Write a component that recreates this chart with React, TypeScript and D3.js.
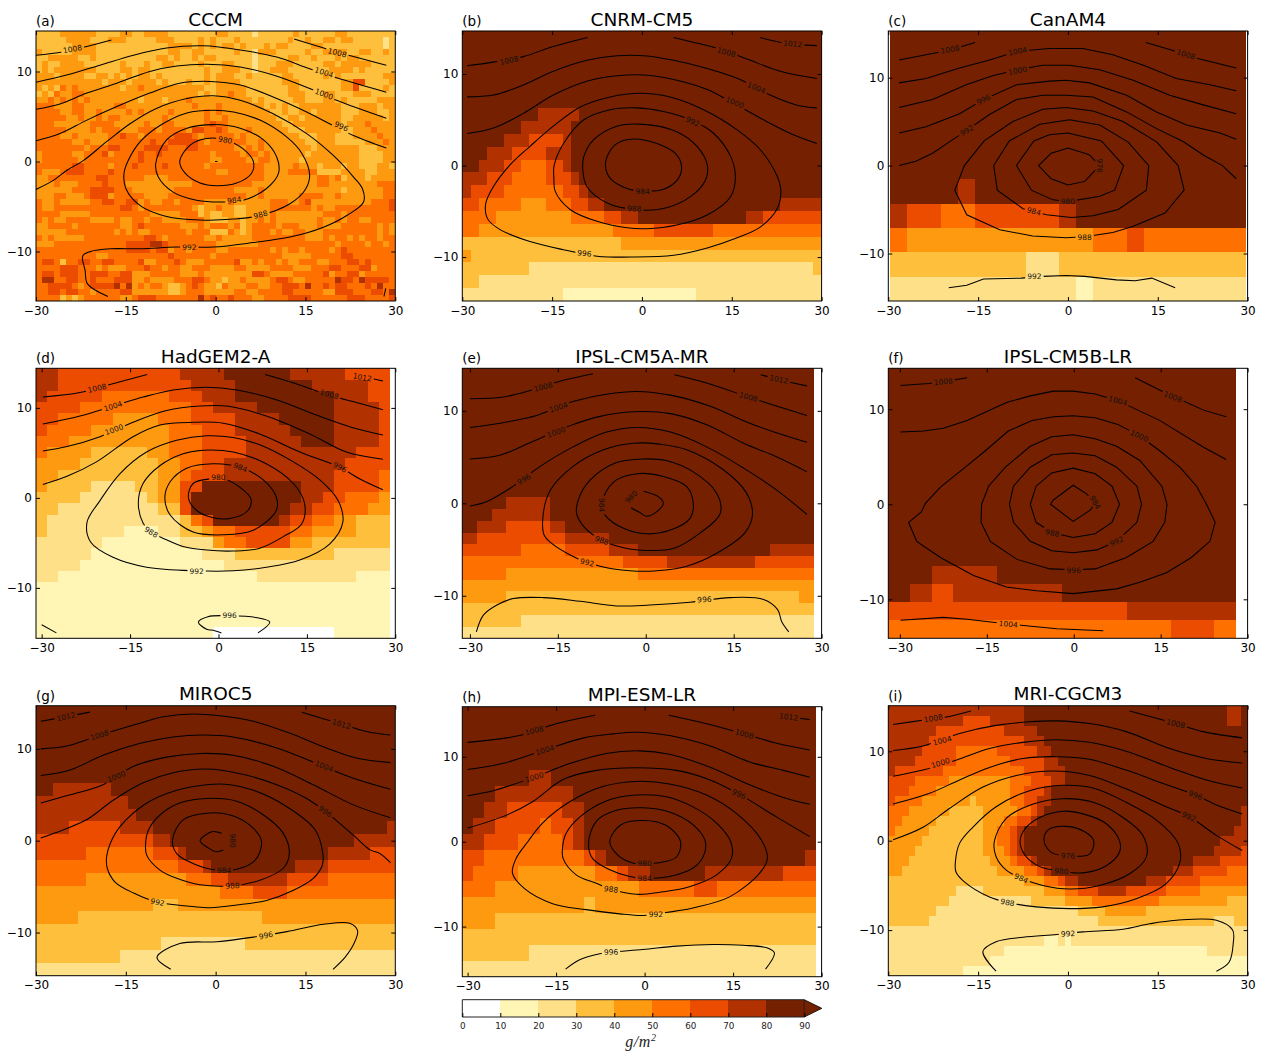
import React, { useEffect, useRef } from "react";
import * as d3 from "d3";

type Pt = [number, number];
// level, closed (1) or open (0), points as lon/lat
type Contour = [number, number, Pt[]];
// text, lon, lat, rotation
type Label = [string, number, number, number];

// colour bins: index = floor(value / 10)
const binEdges = [0, 10, 20, 30, 40, 50, 60, 70, 80, 90];
const binColors = ["#ffffff", "#fff5b5", "#fee088", "#febf3c", "#fe9a10", "#fe7000", "#ec4c00", "#b23100", "#752000"];
const xTicks = [-30, -15, 0, 15, 30];
const yTicks = [-10, 0, 10];

// rows run top to bottom. Plain digits = one cell each, "b@n" = bin b up to column n
const cccmBins = [
  "3333444444 3333443344 4433333333 4433332333 3334333333 4433333333",
  "3333344443 3344433333 4443333434 3334333333 3343343344 3443333323",
  "3333334444 3333333333 3344443434 3443433343 4433334433 3333333323",
  "4333334444 3333333333 3344334433 3334332444 3333343344 4433443343",
  "3344444334 3333333333 4434334344 3333332333 3344334333 4344333333",
  "3433444433 3333433343 3443333433 3443332333 4443333344 3444443333",
  "3434444444 3333443443 3333333343 3444332334 4433333334 4443433333",
  "4443444433 4434343443 4333333343 4443343333 3443333343 4333333344",
  "4444444444 4344434444 3433343343 4444333333 3444333333 3446633334",
  "4343545444 4444344544 4444444433 4444433333 3344333333 3446333343",
  "3435445544 4444444444 4444444343 4454433333 3344433344 3334443333",
  "4454545454 4444444344 4344454444 4444443433 3334433344 3433333444",
  "5554445544 4445544444 4444445444 5444444434 3433444444 4333444344",
  "5555445544 5444454544 4454444454 5444444443 3433443444 4333444334",
  "5555544544 5455444444 4544444454 4544444444 3344344444 4334444434",
  "5554444445 5554444454 4554444456 5544444444 4334444444 4344454444",
  "5555544445 4555444555 4555546655 6544454444 4433344444 4334445444",
  "5555445444 4455655455 5556665455 5554544444 4444333444 3334444544",
  "5555554454 4455555556 5566666545 5555544544 4444433444 3333344454",
  "5555555545 5566555566 6655566555 5554454544 4444443444 4444333444",
  "4555554455 5645555655 6555555554 5555455454 4444434444 4444333344",
  "4555555455 5555555655 5555555554 4555544554 4444344444 4444333344",
  "5555556655 5545556555 5655555545 5555555544 4445444344 4344333443",
  "5444566655 5565555555 5555555555 4455555544 4455555333 3444433444",
  "4455555555 6655555544 4455555555 5555555544 4444444554 5344434444",
  "4445444555 5655544444 4444445555 5555554444 4444444554 4444444555",
  "4444445556 6665554444 4445555555 5554444544 4444444444 4344444455",
  "4445544456 6645555544 4455555555 5555544544 4444555544 5444444455",
  "5445444445 5665566454 4554555544 4454444445 5544564444 4444445556",
  "5445555555 5555665455 5555554344 5443344445 5555554544 5555555556",
  "5555444445 5555555554 4444555343 3443344445 4444444455 5455555555",
  "5454455554 4445445545 5444455543 3344344545 4444444544 5455445555",
  "4455554555 5555445655 5555444545 5545345555 4555444544 4555555454",
  "4444455555 5554545445 5555545553 3354345554 5445544455 5555555454",
  "5454444455 5555555566 5455555544 5444445555 5555544454 5545455455",
  "4445555555 5555566667 7655555555 4444444555 5555555555 4555545545",
  "5555555555 5555566665 6645545555 4455555554 5455455554 5655555555",
  "5555555555 4455555555 5565555554 5555555555 5444445555 5665555555",
  "5665355665 5665555644 5556544455 5556445455 4544555445 5566565555",
  "5555666555 4544455565 5455445554 4445544445 5554445556 6555664555",
  "5665666556 6655664445 5555444544 4444446654 4445555564 5566455555",
  "5775566556 5556664454 4445556654 4344544445 6654455555 7665766665",
  "5566665456 6667574545 5433456544 3544455445 5666575565 6655565755",
  "5566566554 5555664444 4433455544 4445544555 5665555544 6665556657",
  "5555343455 5555445666 5555555756 5565554455 5566665555 5566655556",
];
const cnrmBins = [
  "8@43", "8@43", "8@43", "8@43", "8@43", "8@43",
  "8@9 7@14 8@43",
  "8@7 7@13 8@43",
  "8@5 7@8 6@12 7@13 8@43",
  "8@3 7@6 6@10 7@13 8@43",
  "8@2 7@5 6@7 5@10 6@12 7@13 8@43",
  "7@3 6@6 5@10 6@13 7@14 8@43",
  "7@1 6@5 5@12 6@14 7@15 8@43",
  "6@2 5@7 4@10 5@13 6@15 7@17 8@38 7@43",
  "5@4 4@13 5@17 6@19 7@21 8@34 7@36 6@43",
  "5@2 4@18 5@23 6@30 5@43",
  "3@19 4@43",
  "4@1 3@43",
  "3@8 2@42 3@43",
  "3@2 2@43",
  "2@12 1@28 2@43",
];
const canamBins = [
  "8@21", "8@21", "8@21", "8@21", "8@21", "8@21", "8@21",
  "8@4 7@5 8@21",
  "7@1 6@3 5@5 6@10 7@11 8@21",
  "5@1 4@12 5@14 6@15 5@21",
  "3@8 2@10 3@21",
  "2@11 1@12 2@21",
];
const hadgemBins = [
  "7@2 6@13 7@17 8@23 7@28 6@32",
  "7@2 6@14 7@18 8@25 7@30 6@32",
  "7@1 6@6 5@12 6@15 7@18 8@27 7@30 6@32",
  "6@4 5@14 6@16 7@20 8@27 7@31 6@32",
  "6@2 5@7 4@11 5@14 6@18 7@22 8@27 7@31 6@32",
  "6@1 5@5 4@12 5@15 6@18 7@23 8@27 7@31 6@32",
  "5@3 4@12 5@15 6@19 7@24 8@27 7@31 6@32",
  "5@1 4@5 3@10 4@12 5@15 6@19 7@29 6@32",
  "4@4 3@11 4@13 5@15 6@17 7@28 6@32",
  "4@2 3@11 4@13 5@14 6@17 7@27 6@31 5@32",
  "4@1 3@5 2@9 3@11 4@13 6@15 8@24 7@27 6@31 5@32",
  "3@4 2@10 3@11 4@13 6@14 8@24 7@26 6@28 5@31 4@32",
  "3@2 2@11 3@13 6@14 8@23 7@25 6@27 5@30 4@32",
  "3@1 2@13 3@14 5@15 6@16 8@22 7@23 6@25 5@27 4@29 3@32",
  "3@1 2@8 1@11 2@13 3@15 4@16 5@18 6@23 5@25 4@29 3@32",
  "2@6 1@13 2@16 4@17 5@19 6@23 4@25 3@32",
  "2@5 1@15 2@18 3@27 2@32",
  "2@4 1@17 2@32",
  "2@2 1@20 2@29 1@32",
  "1@32", "1@32", "1@32", "1@32",
  "1@16 0@27 1@32",
];
const ipslMrBins = [
  "8@24", "8@24", "8@24", "8@24", "8@24", "8@24", "8@24", "8@24", "8@24", "8@24", "8@24",
  "8@3 7@6 8@24",
  "8@2 7@6 8@24",
  "8@1 7@3 6@6 7@7 8@24",
  "7@1 6@7 7@10 8@24",
  "6@4 5@7 6@10 7@12 8@21 7@24",
  "5@11 6@14 7@20 6@24",
  "5@3 4@12 5@24",
  "4@24",
  "4@3 3@23 4@24",
  "3@24",
  "3@4 2@24",
  "2@24",
];
const ipslLrBins = [
  "8@16", "8@16", "8@16", "8@16", "8@16", "8@16", "8@16", "8@16", "8@16", "8@16", "8@16",
  "8@2 7@5 8@16",
  "8@1 7@2 6@3 7@8 8@16",
  "6@11 7@16",
  "5@13 6@15 5@16",
];
const mirocBins = [
  "8@43", "8@43", "8@43", "8@43", "8@43", "8@43",
  "8@2 7@9 8@43",
  "7@11 8@43",
  "7@12 8@43",
  "7@4 6@10 7@14 8@42 7@43",
  "6@14 7@16 8@38 7@43",
  "6@6 5@14 6@17 7@18 8@35 7@40 6@43",
  "5@17 6@20 7@21 8@31 7@35 6@43",
  "5@6 4@18 5@21 6@23 7@30 6@35 5@43",
  "4@22 5@26 6@30 5@43",
  "4@14 3@17 4@43",
  "4@5 3@27 4@43",
  "3@43",
  "3@15 2@25 3@43",
  "3@10 2@43",
  "2@43",
];
const mpiBins = [
  "8@32", "8@32", "8@32", "8@32",
  "8@6 7@8 8@32",
  "8@3 7@10 8@32",
  "8@2 7@4 6@9 7@11 8@32",
  "8@1 7@3 6@7 5@8 6@10 7@11 8@32",
  "7@2 6@5 5@9 6@10 7@11 8@32",
  "6@2 5@11 6@12 7@13 8@31 7@32",
  "6@1 5@5 4@12 5@14 6@15 7@17 8@22 7@29 6@32",
  "5@3 4@16 5@21 6@23 5@32",
  "4@11 3@12 4@32",
  "4@3 3@32",
  "3@32",
  "3@6 2@32",
  "2@32",
];
const mriBins = [
  "7@20 8@50 7@52 8@53",
  "7@11 6@15 7@20 8@50 7@52 8@53",
  "7@7 6@17 7@22 8@53",
  "7@6 6@20 7@23 8@53",
  "7@5 6@10 5@16 6@22 7@24 8@53",
  "7@4 6@10 5@18 6@23 7@25 8@53",
  "7@1 6@8 5@20 6@23 7@26 8@53",
  "6@4 5@9 4@18 5@21 6@24 7@26 8@53",
  "6@3 5@7 4@18 5@20 6@23 7@24 8@53",
  "6@1 5@5 4@12 3@13 4@18 5@20 6@22 7@24 8@53",
  "5@3 4@9 3@14 4@19 5@21 6@22 7@23 8@52 7@53",
  "5@2 4@7 3@14 4@17 5@19 6@21 7@22 8@52 7@53",
  "5@1 4@6 3@14 4@16 5@18 6@19 7@20 8@51 7@53",
  "4@5 3@14 4@16 5@18 6@19 7@20 8@49 7@53",
  "4@4 3@14 4@17 5@18 6@19 7@20 8@48 7@52 6@53",
  "4@3 3@15 4@18 5@19 6@21 7@22 8@45 7@49 6@53",
  "4@2 3@16 4@20 5@22 6@23 7@24 8@42 7@45 6@50 5@53",
  "3@20 4@23 5@25 6@26 7@28 8@38 7@41 6@46 5@53",
  "3@10 2@14 3@23 4@26 5@28 6@31 7@35 6@41 5@46 4@53",
  "3@9 2@21 3@26 4@30 5@40 4@50 3@53",
  "3@7 2@28 3@32 4@38 3@53",
  "3@6 2@31 3@48 2@51 3@53",
  "2@53",
  "2@23 1@25 2@26 1@27 2@53",
  "2@17 1@47 2@53",
  "2@15 1@53",
  "2@11 1@53",
];

const cccmContours: Contour[] = [
  [1008, 0, [[-30, 11.8], [-25.4, 12.2], [-17.4, 13.5]]],
  [1008, 0, [[13.1, 13.6], [19.1, 12.4], [28.5, 10.7]]],
  [1004, 0, [[-30, 8.8], [-24.9, 9.6], [-19.3, 10.7], [-13.7, 11.8], [-8.2, 12.6], [-2.1, 12.85], [4.1, 12.4], [10.2, 11.6], [15.7, 10.3], [20.2, 9.3], [28.5, 7.7]]],
  [1000, 0, [[-30, 5.8], [-26, 6.4], [-21.5, 7.6], [-16.5, 8.7], [-11, 10], [-6.5, 10.6], [-1.5, 10.8], [4.1, 10.5], [9.6, 9.6], [15.7, 8.1], [20.2, 6.8], [28.5, 4.8]]],
  [996, 0, [[-30, 2.3], [-26, 3.1], [-21.5, 4.6], [-16.5, 6.1], [-11, 7.6], [-6, 8.7], [-0.9, 8.9], [4.1, 8.5], [10.2, 7], [15.2, 5.5], [19.6, 4], [23, 2.9], [28.5, 1.5]]],
  [992, 0, [[-30, -3.1], [-27.1, -2.1], [-24.9, -1], [-22.1, 0.1], [-18.2, 2.2], [-14.3, 4.2], [-9.9, 5.9], [-4.8, 7], [-0.4, 7.3], [4.1, 6.8], [9.6, 5.3], [15.2, 3.1], [19.6, 0.7], [23, -1.7], [24.5, -3], [24.7, -4.5], [21.9, -6], [18, -7.3], [12.4, -8.4], [6.3, -9], [-0.4, -9.5], [-6.5, -9.5], [-12.6, -9.7], [-17.6, -9.7], [-20.9, -10], [-22.2, -10.5], [-21.8, -12.1], [-21.4, -13.6], [-18, -15]]],
  [992, 0, [[28.1, -15], [28.4, -14.1]]],
  [988, 1, [[-15.3, -1.3], [-15, -3], [-12.6, -4.9], [-8.2, -6.1], [-2.6, -6.5], [3, -6.4], [7.4, -6], [12.4, -4.7], [14.9, -3.2], [15.7, -1.5], [14.4, 0.9], [11.9, 2.7], [7.4, 4.6], [3, 5.5], [-0.4, 5.7], [-4.8, 5.4], [-9.3, 4], [-12.6, 2.2], [-14.6, 0.1]]],
  [984, 1, [[-10, -0.2], [-9.6, -1.7], [-7.1, -3.4], [-3.2, -4.3], [0.7, -4.5], [4.6, -4.3], [8.5, -3], [10.5, -1.3], [10.2, 0.5], [8, 2.4], [4.1, 3.7], [-0.4, 4.1], [-4.8, 3.7], [-8.2, 2.4]]],
  [980, 1, [[-6, 0], [-5.1, -1.3], [-2.6, -2.4], [0.2, -2.7], [3.5, -2.4], [6, -1.3], [6.3, 0], [4.6, 1.4], [1.6, 2.4], [-1.5, 2.55], [-4.3, 1.8]]],
  [976, 0, [[-0.1, 0], [0.3, 0]]],
];
const cccmLabels: Label[] = [
  ["1008", -23.9, 12.5, -10], ["1008", 20.3, 12.1, 14], ["1004", 18.1, 9.9, 18], ["1000", 18.1, 7.5, 20],
  ["996", 21, 3.9, 25], ["992", -4.4, -9.5, 0], ["988", 7.5, -5.9, -15], ["984", 3.1, -4.3, -8], ["980", 1.6, 2.4, 10],
];

const cnrmContours: Contour[] = [
  [1012, 0, [[19.7, 14], [23.7, 13.4], [29.2, 13.1]]],
  [1008, 0, [[-29.2, 10.9], [-24.8, 11.3], [-19.8, 11.9], [-14.8, 13], [-9.1, 14]]],
  [1008, 0, [[5.3, 14], [9.7, 13.3], [14.1, 12.5], [18.1, 11.5], [23.1, 10.3], [29.2, 9.5]]],
  [1004, 0, [[-29.2, 7.5], [-24.8, 7.7], [-19.8, 8.8], [-14.8, 10.3], [-9.2, 11.5], [-4.2, 12], [0.3, 12], [5.3, 11.5], [10.9, 10.6], [16.4, 9.4], [21.4, 7.7], [25.9, 6.6], [29.2, 6.3]]],
  [1000, 0, [[-29.2, 3.5], [-24.8, 4.1], [-19.8, 5.7], [-14.8, 7.7], [-9.2, 9.2], [-4.2, 9.8], [0.3, 9.9], [5.3, 9.4], [10.9, 8.3], [15.3, 6.8], [20.3, 5], [24.8, 3.5], [29.2, 2.4]]],
  [996, 1, [[-26.1, -4.2], [-25.8, -5.8], [-23.7, -7], [-18.7, -8.3], [-13.1, -9.2], [-7.5, -9.9], [-1.4, -10], [5.3, -9.8], [10.9, -9], [15.9, -7.9], [19.8, -6.7], [22.6, -4.7], [23.2, -2.8], [22.6, -1.2], [19.8, 1.7], [15.9, 3.9], [10.3, 6.1], [4.7, 7.5], [-0.3, 7.9], [-5.3, 7.5], [-10.3, 6.4], [-14.8, 4.3], [-18.7, 2.1], [-22, 0.1], [-24.8, -2.3]]],
  [992, 1, [[-14.7, -1.4], [-14.5, -2.8], [-12, -4.8], [-7.5, -6.1], [-2.5, -6.8], [0.8, -6.9], [5.8, -6.5], [10.9, -5.4], [14.8, -3.4], [15.6, -1.2], [14.8, 1], [12, 3.5], [8.5, 4.9], [3.6, 5.9], [-0.8, 6.3], [-5.3, 6.1], [-9.7, 5], [-13.1, 2.4], [-14.7, -0.1]]],
  [988, 1, [[-9.9, -0.3], [-9.2, -2.3], [-5.8, -4.1], [-1.3, -4.8], [3.6, -4.7], [8.1, -3.4], [10.6, -1.6], [10.9, 0.1], [9.2, 2.1], [5.8, 3.7], [0.3, 4.5], [-4.2, 4.3], [-8.1, 2.8], [-9.7, 1]]],
  [984, 1, [[-6.1, 0], [-5.3, -1.4], [-2.5, -2.5], [0.1, -2.8], [3.6, -2.6], [6.1, -1.4], [6.6, 0], [5.6, 1.3], [2.5, 2.4], [-1.4, 2.9], [-4.2, 2.4], [-5.6, 1.3]]],
];
const cnrmLabels: Label[] = [
  ["1012", 25.2, 13.3, 5], ["1008", -22.2, 11.5, -12], ["1008", 14.1, 12.4, 15], ["1004", 19.1, 8.5, 22], ["1000", 15.5, 6.9, 22],
  ["996", -9.6, -9.6, 6], ["992", 8.5, 4.8, 25], ["988", -1.3, -4.7, 3], ["984", 0.1, -2.8, 0],
];

const canamContours: Contour[] = [
  [1008, 0, [[-28.2, 12], [-23.7, 12.6], [-19.8, 13.1], [-15.5, 14]]],
  [1008, 0, [[13, 14], [17, 13.2], [21.5, 12.2], [28.1, 11.1]]],
  [1004, 0, [[-28.2, 9.4], [-23.7, 9.9], [-18.1, 11.1], [-13.1, 12], [-8.4, 13], [-3.1, 13.3], [2.5, 13.3], [7.5, 12.6], [12.6, 11.4], [18.1, 9.9], [23.7, 9.2], [28.1, 8.5]]],
  [1000, 0, [[-28.2, 6.6], [-22.6, 7.5], [-17, 9.2], [-12.6, 10.2], [-8.4, 10.9], [-4.2, 11.4], [0.3, 11.4], [5.3, 10.9], [10.9, 9.7], [17, 8], [22.6, 6.9], [28.1, 5.9]]],
  [996, 0, [[-28.2, 3.7], [-23.7, 4.4], [-18.1, 5.9], [-14.1, 7.5], [-8.6, 9.2], [-3.1, 9.6], [-0.3, 9.7], [3.6, 9.4], [9.8, 8], [14.8, 6.1], [19.8, 4.6], [25.4, 3.7], [28.1, 3]]],
  [992, 0, [[-28.2, 0], [-25.4, 0.5], [-22.6, 1.4], [-19.8, 2.7], [-16.9, 4], [-13.1, 5.8], [-8.6, 7.5], [-4.2, 8], [-0.3, 8], [4.2, 7.8], [9.8, 6.1], [14.8, 4.2], [19.3, 2.7], [22.6, 1.2], [25.8, 0], [28.1, -1.5]]],
  [988, 1, [[-18.9, -2.8], [-16.9, -5.6], [-11.4, -7.3], [-5.9, -8], [-0.3, -8.2], [2.8, -8.1], [7.5, -7.6], [10.9, -6.9], [16.2, -5.4], [19.4, -2.8], [18.4, 0], [14.8, 2.7], [9.2, 5], [4.2, 6.2], [-0.3, 6.6], [-4.2, 6.4], [-9.2, 5], [-14, 2.8], [-17.3, 0]]],
  [984, 1, [[-12.4, 0], [-11.8, -2.8], [-7.5, -4.9], [-3.6, -5.6], [0.6, -5.9], [4.2, -5.7], [8.4, -5], [13.1, -2.8], [13.5, 0], [10, 2.7], [5.3, 4.6], [0.3, 5.2], [-4.7, 4.7], [-9.8, 2.8]]],
  [980, 1, [[-8.6, 0], [-6.1, -2.8], [-2.5, -3.9], [0, -4.1], [5.3, -3.5], [7.8, -2.8], [9.3, 0], [5.6, 2.8], [0, 3.7], [-3.1, 3.5], [-5.7, 2.8]]],
  [976, 1, [[-4.9, 0], [-2.8, -1.5], [0, -2.2], [2.8, -1.8], [3.9, -1], [5.3, 0], [3.6, 1.2], [2.8, 1.4], [0, 2], [-2.8, 1.4]]],
  [992, 0, [[-19.9, -13.9], [-16.9, -13.6], [-14.1, -12.9], [-7.8, -12.8], [-4.2, -12.6], [-0.3, -12.5], [2.8, -12.6], [8.1, -13], [11.2, -13.1], [14, -12.8], [17.9, -13.9]]],
];
const canamLabels: Label[] = [
  ["1008", -19.7, 13.2, -10], ["1008", 19.7, 12.65, 18], ["1004", -8.4, 13, -12], ["1000", -8.4, 10.8, -10], ["996", -14.1, 7.5, -25],
  ["992", -16.9, 4, -30], ["988", 2.8, -8.1, 0], ["984", -5.7, -5.2, 15], ["980", 0, -4.1, 0], ["976", 5.3, 0, 90], ["992", -5.6, -12.6, 0],
];

const hadgemContours: Contour[] = [
  [1012, 0, [[23.7, 13.6], [27.9, 13]]],
  [1008, 0, [[-29.8, 11.2], [-23.5, 11.7], [-18.4, 12.6], [-12.1, 13.7]]],
  [1008, 0, [[7.9, 13.7], [12.1, 12.9], [18.9, 11.4], [22.8, 10.7], [27.9, 9.8]]],
  [1004, 0, [[-29.8, 8.2], [-23.5, 9.1], [-17.9, 10.2], [-12.8, 11.2], [-7.7, 12], [-2, 12.3], [3.1, 12], [9.8, 10.9], [16.6, 9.2], [22.8, 7.8], [27.9, 7]]],
  [1000, 0, [[-29.8, 5.2], [-25.7, 5.7], [-20.1, 6.8], [-14.5, 8.4], [-8.8, 9.7], [-3.2, 10.2], [1.4, 10.2], [8.1, 9.1], [15.5, 7.1], [21.7, 5.1], [27.9, 4.3]]],
  [996, 0, [[-29.8, 1.5], [-25.7, 2.4], [-20.7, 4], [-14.5, 6.8], [-9.9, 8.1], [-4.3, 8.4], [0.8, 8.3], [7, 7.1], [13.8, 5.1], [20.6, 3.4], [24, 2.1], [27.9, 0.9]]],
  [992, 1, [[-22.3, -2.7], [-21.7, -4.9], [-17.9, -6.6], [-12.2, -7.7], [-3.7, -8.1], [2.5, -8.1], [8.1, -7.7], [13.8, -6.9], [18.9, -5.1], [21.1, -2.7], [20.3, -0.3], [17.2, 2], [12.7, 4], [7, 5.9], [2.5, 6.7], [-2, 6.9], [-7.1, 6.4], [-12.2, 5.1], [-16.7, 2.7], [-20.1, -0.3]]],
  [988, 1, [[-12.8, -2.8], [-13.6, -0.6], [-12.8, 1.6], [-9.9, 3.6], [-6, 4.9], [-2.6, 5.3], [2.5, 5.1], [8.1, 3.8], [12.7, 1.6], [14.6, -0.6], [14.1, -2.9], [11, -4.3], [7, -5.6], [2.5, -5.9], [-2, -5.8], [-6, -5.4], [-9.7, -4.4], [-11.4, -3.9]]],
  [984, 1, [[-9.1, 0], [-8.2, -1.9], [-4.3, -3.8], [0.8, -4.1], [5.9, -3.6], [9.8, -1.4], [9.8, 0.1], [7.6, 2], [3.7, 3.4], [-0.9, 3.8], [-5.4, 3.3], [-8.2, 1.8]]],
  [980, 1, [[-5.1, 0], [-3.7, -1.4], [-0.9, -2.2], [1.9, -2.3], [5, -1.4], [5.5, -0.1], [3.6, 1.2], [1.4, 2], [-1.5, 2.1], [-4.3, 1.6]]],
  [996, 0, [[0.5, -15], [-0.9, -14.7], [-2, -14.6], [-3.4, -13.8], [-1.8, -13.2], [1.9, -13.1], [6.4, -13.3], [8.7, -13.8], [6.7, -15]]],
  [996, 0, [[-30, -14.1], [-27.5, -15]]],
];
const hadgemLabels: Label[] = [
  ["1012", 24.4, 13.4, 10], ["1008", -20.6, 12.2, -13], ["1008", 18.8, 11.5, 16], ["1004", -17.9, 10.2, -18], ["1000", -17.7, 7.6, -20],
  ["996", 20.6, 3.4, 28], ["992", -3.7, -8.1, 0], ["988", -11.4, -3.8, 30], ["984", 3.7, 3.4, 22], ["980", 0, 2.3, 0], ["996", 1.9, -13, 0],
];

const ipslMrContours: Contour[] = [
  [1012, 0, [[19.6, 13.9], [22.7, 13.4], [27.5, 12.7]]],
  [1008, 0, [[-30, 11.3], [-24.3, 11.5], [-19.7, 12.2], [-14.6, 13.2], [-9, 14]]],
  [1008, 0, [[4.9, 13.9], [10.4, 13], [17.5, 11.5], [22.4, 10.5], [27.5, 9.5]]],
  [1004, 0, [[-30, 8.2], [-23.7, 8.8], [-18.6, 9.5], [-12.4, 11], [-6.7, 11.8], [-1.5, 12.1], [4.2, 11.7], [11, 10.5], [17.2, 8.8], [22.4, 7.6], [27.5, 6.6]]],
  [1000, 0, [[-30, 4.8], [-24.9, 5.2], [-19.2, 6.7], [-12.9, 8.4], [-7.8, 9.4], [-2.1, 9.9], [4.2, 9.7], [10.4, 8.5], [16.7, 6.5], [22.4, 5], [27.5, 3.4]]],
  [996, 0, [[-30, -0.3], [-27.1, 0.2], [-23.2, 1.6], [-18, 4], [-12.4, 6.1], [-6.7, 7.7], [-1.5, 8.2], [4.2, 7.7], [10.4, 6.1], [16.7, 3.8], [22.4, 1.4], [27.5, -1.2]]],
  [992, 1, [[-17.6, -2], [-17.2, -3.6], [-12.9, -5.6], [-7.8, -6.8], [-2.7, -7.3], [1.9, -7.3], [7, -6.8], [12.1, -5.4], [16.9, -3.2], [18.2, -1.3], [17.2, 1.1], [13.3, 3.6], [7, 5.8], [2.4, 6.4], [-2.1, 6.5], [-7.2, 5.8], [-12.4, 4], [-16.3, 1.4]]],
  [988, 1, [[-11.8, -1.1], [-10.6, -2.5], [-7.5, -4], [-3.2, -4.9], [0.2, -5.1], [4.7, -4.9], [9.3, -3.2], [12.7, -1.1], [12.1, 1.1], [8.1, 3.4], [3.6, 4.6], [-0.4, 4.8], [-5, 4.4], [-9.5, 2.5], [-11.5, 0.4]]],
  [984, 1, [[-6.9, -1.3], [-3.8, -2.7], [0.2, -3.3], [4.2, -2.9], [7.6, -1.6], [8.1, 0], [7, 1.8], [3, 2.9], [-1.5, 3.2], [-5.5, 2.3], [-7.5, 0]]],
  [980, 0, [[-2.5, -0.5], [-1, -1], [0.1, -1.4], [1.9, -0.9], [3, 0], [2.2, 0.7], [-0.4, 1.3]]],
  [996, 0, [[-28.9, -13.9], [-27.7, -12.1], [-25.4, -11], [-22.6, -10.3], [-17.5, -10.2], [-11.2, -10.6], [-5, -11.1], [0.7, -11], [7.6, -10.7], [14.4, -10.2], [20.1, -10.4], [22.5, -11.5], [23.2, -12.8], [24.4, -13.9]]],
];
const ipslMrLabels: Label[] = [
  ["1012", 22.7, 13.4, 12], ["1008", -17.5, 12.6, -14], ["1008", 17.5, 11.5, 15], ["1004", -14.9, 10.4, -18], ["1000", -15.3, 7.7, -20],
  ["996", -20.8, 2.6, -30], ["992", -10, -6.4, 13], ["988", -7.5, -4, 20], ["984", -7.5, -0.2, 90], ["980", -2.5, 0.7, -45], ["996", 10, -10.4, -3],
];

const ipslLrContours: Contour[] = [
  [1008, 0, [[-29.9, 12.5], [-25, 12.7], [-22.5, 12.9], [-18.4, 13.3]]],
  [1008, 0, [[10.6, 13.3], [15.5, 11.8], [22.4, 9.9], [26.3, 9.2]]],
  [1004, 0, [[-29.9, 7.6], [-25.9, 7.7], [-22.5, 8], [-18.4, 8.8], [-11.6, 10.7], [-7.5, 11.4], [-3.5, 11.9], [-0.1, 11.9], [3.7, 11.6], [7.6, 10.9], [14.9, 8.8], [22.4, 6], [26.3, 4.7]]],
  [1000, 1, [[-3.5, 9.2], [-0.1, 9.3], [3.7, 9.1], [7.6, 8.4], [11.3, 7.2], [14.9, 5.6], [18.3, 3.9], [21.2, 1.9], [22.9, 0], [24.4, -1.9], [23.5, -3.9], [20.3, -5.6], [16, -7.2], [11.4, -8.2], [7.4, -8.9], [-0.1, -9.4], [-6.4, -9.1], [-11.6, -8.7], [-17.3, -7.5], [-23, -5.6], [-27.1, -3.9], [-28.5, -1.9], [-26.3, -0.8], [-25.6, 0.1], [-23, 1.8], [-18.7, 3.9], [-15.3, 5.6], [-11.3, 7.7], [-7.2, 8.8]]],
  [996, 1, [[-16, -1.9], [-14.4, -3.9], [-9.8, -5.8], [-4.1, -6.8], [0, -6.9], [3.7, -6.8], [9.1, -5.6], [13.7, -3.9], [15.7, -1.9], [16.1, 0], [15.2, 1.9], [11.4, 4.6], [7.4, 6.1], [3.7, 6.9], [-0.1, 7.3], [-3.8, 7.1], [-7.5, 6.1], [-11.8, 3.9], [-14.7, 1.9], [-15.9, 0]]],
  [992, 1, [[-11.1, 0], [-10.4, -1.9], [-7.5, -3.9], [-3.8, -4.9], [-0.1, -5.1], [4, -4.8], [7.4, -3.9], [10.9, -1.9], [11.7, 0], [10.9, 1.9], [7.4, 3.9], [3.7, 5.1], [-0.1, 5.4], [-3.8, 5.2], [-7.5, 3.9], [-10.4, 1.9]]],
  [988, 1, [[-7.5, 0], [-6.5, -1.9], [-3.7, -3], [-0.1, -3.5], [3.7, -3.1], [6.6, -1.9], [7.9, 0], [6.6, 1.9], [3.7, 3.2], [-0.1, 3.8], [-3.8, 3.3], [-6.5, 1.9]]],
  [984, 1, [[-4, 0], [-0.1, -1.8], [2.9, -0.6], [3.7, 0.2], [2.2, 1.1], [-0.1, 2], [-3.6, 0.4]]],
  [1004, 0, [[-29.9, -12.2], [-22.5, -11.9], [-18.4, -12.1], [-11.3, -12.6], [-2.9, -13.1], [5.1, -13.3]]],
];
const ipslLrLabels: Label[] = [
  ["1008", -22.5, 12.9, -5], ["1008", 17.1, 11.3, 22], ["1004", 7.6, 10.9, 15], ["1000", 11.3, 7.2, 25], ["996", 0, -6.9, 0],
  ["992", 7.4, -3.9, -25], ["988", -3.7, -3, 12], ["984", 3.7, 0.2, 60], ["1004", -11.3, -12.6, 5],
];

const mirocContours: Contour[] = [
  [1012, 0, [[-29.2, 13], [-25, 13.5], [-21, 14]]],
  [1012, 0, [[14.4, 14], [21, 12.7], [25.2, 11.9], [29.2, 11.5]]],
  [1008, 0, [[-29.2, 10], [-24.9, 10.3], [-19.3, 11.5], [-13.7, 12.6], [-8.7, 13.5], [-3.7, 13.8], [0.7, 13.6], [6.3, 13], [12.4, 11.7], [18.5, 10.1], [23.5, 9], [29.2, 8.5]]],
  [1004, 0, [[-29.2, 7.1], [-24.3, 7.7], [-18.8, 9.3], [-12.6, 10.6], [-7.1, 11.3], [-2.1, 11.5], [2.9, 11.3], [10.2, 10.1], [16.9, 8.4], [23, 6.8], [29.2, 5.6]]],
  [1000, 0, [[-29.2, 4.1], [-24.3, 5], [-18.8, 6.1], [-13.7, 8.1], [-8.2, 9.1], [-2.6, 9.5], [2.9, 9.3], [9.6, 8.1], [16.3, 6.1], [23, 3.9], [29.2, 2.5]]],
  [996, 0, [[-29.2, 0.3], [-25.4, 1.2], [-21.5, 2.3], [-17.1, 4.4], [-12.1, 6.3], [-7.1, 7.4], [-1.5, 7.8], [4.1, 7.3], [10.2, 6.1], [15.2, 4.6], [18.3, 3.2], [23, 0.6], [25.8, -1], [27.4, -1.4], [29.2, -2.4]]],
  [992, 1, [[-18.2, -1.7], [-18.1, -3], [-16.8, -4.5], [-13.7, -5.7], [-9.7, -6.7], [-4.8, -7.1], [-1.5, -7.3], [3.5, -7], [8.5, -6.5], [13, -5.4], [16.3, -4.1], [17.8, -2.7], [17.9, -1.4], [16.6, 1.2], [11.9, 3.7], [6.3, 5.5], [2.4, 6.1], [-1.5, 6.1], [-6.5, 5.5], [-11.5, 4.1], [-16, 1.5], [-17.6, -0.3]]],
  [988, 1, [[-11.7, -0.3], [-11.5, -1.6], [-9.3, -3.2], [-6.5, -4.1], [-2.6, -4.8], [2.8, -4.9], [7.4, -4.3], [11.3, -3], [12.3, -1.4], [11.3, 0.8], [8, 2.8], [3.5, 4.3], [-1.5, 4.6], [-6, 4.1], [-9.3, 2.8], [-11.2, 1.2]]],
  [984, 1, [[-7.2, 0.1], [-6.5, -1.4], [-3.7, -2.5], [0.2, -3.2], [3.5, -3.1], [6.3, -2.3], [7.4, -1.2], [7.6, 0.1], [5.7, 1.7], [2.4, 2.8], [-1.5, 3], [-5.4, 2.3]]],
  [980, 0, [[1, 0.8], [-0.4, 1], [-1.5, 0.7], [-2.6, 0], [-1.2, -0.8], [0.1, -1.2], [1.3, -1]]],
  [996, 0, [[-7.5, -14], [-9.8, -12.7], [-6, -11.2], [0.2, -11], [6.3, -10.5], [11.9, -9.9], [18, -9.1], [22.4, -9], [23.7, -9.8], [23.1, -11.2], [21.6, -12.7], [19.6, -14]]],
];
const mirocLabels: Label[] = [
  ["1012", -25, 13.5, -13], ["1012", 21, 12.7, 17], ["1008", -19.4, 11.5, -17], ["1004", 18.1, 8.1, 22], ["1000", -16.6, 7, -22],
  ["996", 18.3, 3.2, 35], ["992", -9.7, -6.7, 12], ["988", 2.8, -4.9, -3], ["984", 1.4, -3.2, 0], ["980", 2.8, 0, 90], ["996", 8.4, -10.3, -12],
];

const mpiContours: Contour[] = [
  [1012, 0, [[24, 14.7], [28, 14.4]]],
  [1008, 0, [[-30, 11.7], [-21.2, 12.5], [-15, 13.9], [-8.4, 14.9]]],
  [1008, 0, [[4.1, 14.9], [10.5, 13.9], [16.9, 12.7], [22.4, 11.6], [28, 10.8]]],
  [1004, 0, [[-30, 8.5], [-24.1, 9.2], [-16.9, 10.8], [-10.5, 12.2], [-5.4, 12.7], [-1.4, 12.9], [4.2, 12.5], [11, 11.3], [17.8, 9.4], [23.5, 8.4], [28, 7.6]]],
  [1000, 0, [[-30, 5.4], [-25.2, 6.1], [-18.7, 7.6], [-12.7, 9.2], [-6.5, 10.4], [-0.8, 10.7], [4.2, 10.3], [11, 8.8], [17.8, 6.7], [23.5, 5.2], [28, 4.4]]],
  [996, 0, [[-30, 1.6], [-23.5, 3.1], [-19, 4.7], [-13.9, 7.3], [-8.2, 8.4], [-1.4, 8.7], [5.4, 8.4], [11, 7.3], [16, 5.6], [22.4, 2.9], [28, 0.6]]],
  [992, 1, [[-22.4, -3.7], [-20.4, -5.5], [-15.6, -7.3], [-9.9, -8], [-4.2, -8.5], [-0.3, -8.7], [1.9, -8.5], [8.2, -7.8], [14.4, -6.5], [19.5, -3.7], [20.8, -2], [19.8, 0.2], [15.6, 3.3], [10.5, 5.5], [4.2, 6.8], [-1.4, 7.1], [-7.1, 6.5], [-12.7, 4.7], [-17.3, 2.2], [-19.8, 0], [-21.8, -2]]],
  [988, 1, [[-13.9, -0.6], [-13.8, -2], [-11.6, -3.9], [-8.2, -4.9], [-5.7, -5.6], [-1.4, -6.2], [3.1, -5.9], [7.6, -5.3], [12.2, -3.9], [14.7, -2], [14.6, 0], [12.2, 2.2], [8.2, 4.1], [3.7, 5.3], [-1.4, 5.5], [-6.5, 4.8], [-11, 2.9], [-13.3, 1]]],
  [984, 1, [[-9.5, -0.2], [-8.8, -2], [-5.9, -3.3], [-2.5, -4.1], [0, -4.3], [4.2, -4.1], [8.2, -3.1], [9.9, -1.8], [10.3, 0], [8.2, 2], [4.2, 3.5], [-0.3, 4], [-4.8, 3.7], [-8.2, 2.4]]],
  [980, 1, [[-5.9, 0], [-4.5, -1.6], [-2, -2.5], [0, -2.6], [3.1, -2.4], [5.4, -1.8], [6.1, 0], [3.7, 1.9], [-0.3, 2.5], [-4, 2]]],
  [996, 0, [[-13.4, -15], [-11, -13.9], [-7.6, -13.2], [-5.7, -13], [-0.3, -12.7], [5.4, -12.3], [11.6, -12.1], [16.7, -12.2], [20.7, -12.5], [22, -13.1], [20.5, -15]]],
];
const mpiLabels: Label[] = [
  ["1012", 24.4, 14.7, 7], ["1008", -18.7, 13.1, -14], ["1008", 16.9, 12.7, 15], ["1004", -16.9, 10.8, -17], ["1000", -18.7, 7.6, -17],
  ["996", 16, 5.6, 25], ["992", 1.9, -8.5, 0], ["988", -5.7, -5.6, 8], ["984", 0, -4.3, 0], ["980", 0, -2.6, 0], ["996", -5.7, -13, -2],
];

const mriContours: Contour[] = [
  [1008, 0, [[-29.2, 13], [-24, 13.5], [-19.8, 13.9], [-16.2, 14.5]]],
  [1008, 0, [[10.3, 14.5], [18, 13.1], [22.6, 12.2], [29.1, 11.5]]],
  [1004, 0, [[-29.2, 10.1], [-24.2, 10.6], [-18.1, 12], [-12, 12.9], [-6.4, 13.3], [-1.9, 13.4], [3.6, 13.1], [9.7, 12.2], [17, 10.3], [23.1, 9.2], [29.1, 8.7]]],
  [1000, 0, [[-29.2, 7.2], [-24.2, 7.9], [-18.7, 9], [-13.1, 10.3], [-7.5, 11], [-1.9, 11.3], [3.6, 11], [9.7, 10], [17, 8.2], [23.1, 6.8], [29.1, 5.9]]],
  [996, 0, [[-29.2, 4.1], [-23.1, 5.3], [-18.1, 6.8], [-13.1, 8.2], [-7.5, 9.2], [-1.9, 9.4], [3.6, 9.1], [9.7, 7.9], [15.9, 6.4], [21.3, 5.1], [24.8, 4], [29.1, 3]]],
  [992, 0, [[-29.2, 0.1], [-24.2, 1.5], [-19.8, 3.6], [-14.2, 6], [-8.6, 7.3], [-2.5, 7.8], [3.6, 7.3], [9.7, 5.8], [16.4, 3.8], [20.2, 2.7], [24.8, 0.6], [29.1, -1.1]]],
  [988, 1, [[-18.8, -2.4], [-18.7, -3.5], [-17.3, -4.6], [-13.1, -6.3], [-10.1, -6.9], [-5.3, -7.4], [0.3, -7.6], [5.8, -7.4], [11.4, -6.5], [16.4, -4.8], [18.7, -2.4], [18.4, -0.3], [14.8, 2.3], [9.7, 4.3], [4.2, 5.9], [-0.8, 6.2], [-6.4, 5.6], [-12, 3.8], [-15.9, 1.5], [-18.1, -0.3]]],
  [984, 1, [[-12.3, -0.1], [-12, -1.8], [-10.3, -3.3], [-7.8, -4.2], [-4.2, -5], [0.3, -5.4], [5.3, -5], [10.3, -3.7], [13.1, -1.8], [12.5, 0.6], [9.2, 2.6], [4.2, 4.3], [-0.8, 4.7], [-5.8, 4.1], [-10.3, 2.5]]],
  [980, 1, [[-8, -0.1], [-7.2, -1.6], [-4.7, -2.9], [-1.1, -3.4], [2.5, -3.6], [6.4, -2.8], [8.6, -1.3], [8.6, 0], [6.4, 1.9], [2.5, 3], [-0.8, 3.3], [-4.7, 2.6], [-7.2, 1.3]]],
  [976, 1, [[-4, 0], [-2.8, -1.3], [0, -1.7], [3.6, -1.5], [4.3, 0], [2.8, 1], [-0.3, 1.6], [-3.3, 1.2]]],
  [992, 0, [[-12, -14.6], [-14.2, -12.4], [-12, -11.3], [-7.5, -10.8], [-1.9, -10.5], [2.5, -10.2], [9.2, -9.9], [13.6, -9.3], [18.1, -8.9], [24.8, -8.9], [27.5, -10], [27.6, -11.5], [26.9, -13.6], [24.8, -14.6]]],
];
const mriLabels: Label[] = [
  ["1008", -22.5, 13.7, -10], ["1008", 18, 13.1, 14], ["1004", -21, 11.2, -14], ["1000", -21.3, 8.7, -17], ["996", 21.3, 5.1, 22],
  ["992", 20.2, 2.7, 25], ["988", -10.1, -6.9, 10], ["984", -7.8, -4.2, 25], ["980", -1.1, -3.4, 5], ["976", 0, -1.7, 3], ["992", 0, -10.4, -3],
];

const colLeft = [36, 462.3, 888.3];
const rowTop = [31, 368.3, 705.7];
const axW = 359.3;
const axH = 270;

const panels = [
  { tag: "(a)", title: "CCCM", col: 0, top: rowTop[0], lon0: -30, lat: [14.5, -15.5], gridLon: [-30, 30], gridLat: [14.5, -15.5], nx: 60, bins: cccmBins, contours: cccmContours, labels: cccmLabels, poly: false },
  { tag: "(b)", title: "CNRM-CM5", col: 1, top: rowTop[0], lon0: -30, lat: [14.7, -14.8], gridLon: [-30, 30], gridLat: [14.7, -14.8], nx: 43, bins: cnrmBins, contours: cnrmContours, labels: cnrmLabels, poly: false },
  { tag: "(c)", title: "CanAM4", col: 2, top: rowTop[0], lon0: -30, lat: [15.3, -15.4], gridLon: [-29.7, 29.7], gridLat: [17.84, -15.4], nx: 21, bins: canamBins, contours: canamContours, labels: canamLabels, poly: true },
  { tag: "(d)", title: "HadGEM2-A", col: 0, top: rowTop[1], lon0: -30.96, lat: [14.4, -15.6], gridLon: [-30.96, 29.04], gridLat: [14.4, -15.6], nx: 32, bins: hadgemBins, contours: hadgemContours, labels: hadgemLabels, poly: false },
  { tag: "(e)", title: "IPSL-CM5A-MR", col: 1, top: rowTop[1], lon0: -31.3, lat: [14.6, -14.6], gridLon: [-31.3, 28.7], gridLat: [14.6, -14.6], nx: 24, bins: ipslMrBins, contours: ipslMrContours, labels: ipslMrLabels, poly: false },
  { tag: "(f)", title: "IPSL-CM5B-LR", col: 2, top: rowTop[1], lon0: -32, lat: [14.3, -14.1], gridLon: [-32, 28], gridLat: [14.3, -14.1], nx: 16, bins: ipslLrBins, contours: ipslLrContours, labels: ipslLrLabels, poly: true },
  { tag: "(g)", title: "MIROC5", col: 0, top: rowTop[2], lon0: -30, lat: [14.7, -14.7], gridLon: [-30, 30], gridLat: [14.7, -14.7], nx: 43, bins: mirocBins, contours: mirocContours, labels: mirocLabels, poly: false },
  { tag: "(h)", title: "MPI-ESM-LR", col: 1, top: rowTop[2] + 1, lon0: -30.9, lat: [15.9, -15.9], gridLon: [-30.9, 29.05], gridLat: [15.9, -15.9], nx: 32, bins: mpiBins, contours: mpiContours, labels: mpiLabels, poly: false },
  { tag: "(i)", title: "MRI-CGCM3", col: 2, top: rowTop[2], lon0: -30, lat: [15.1, -15.1], gridLon: [-30, 30], gridLat: [15.1, -15.1], nx: 53, bins: mriBins, contours: mriContours, labels: mriLabels, poly: false },
];

function expandRow(row: string, nx: number): number[] {
  if (!row.includes("@")) return row.replace(/ /g, "").split("").map(Number).slice(0, nx);
  const out: number[] = [];
  for (const run of row.split(" ")) {
    const [b, end] = run.split("@").map(Number);
    while (out.length < end) out.push(b);
  }
  return out;
}

const FONT = "'DejaVu Sans', sans-serif";

export default function App() {
  const svgRef = useRef<SVGSVGElement>(null);

  useEffect(() => {
    if (!svgRef.current) return;
    const svg = d3.select(svgRef.current);
    svg.selectAll("*").remove();

    panels.forEach((p, i) => {
      const left = colLeft[p.col];
      const x = d3.scaleLinear().domain([p.lon0, 30]).range([left, left + axW]);
      const y = d3.scaleLinear().domain(p.lat).range([p.top, p.top + axH]);
      const g = svg.append("g");

      const defs = g.append("defs");
      defs.append("clipPath").attr("id", `clip-${i}`).append("rect")
        .attr("x", left).attr("y", p.top).attr("width", axW).attr("height", axH);
      const mask = defs.append("mask").attr("id", `gaps-${i}`).attr("maskUnits", "userSpaceOnUse")
        .attr("x", left - 5).attr("y", p.top - 5).attr("width", axW + 10).attr("height", axH + 10);
      mask.append("rect").attr("x", left - 5).attr("y", p.top - 5).attr("width", axW + 10).attr("height", axH + 10).attr("fill", "#fff");
      mask.selectAll("rect.gap").data(p.labels).join("rect").attr("class", "gap")
        .attr("x", (d) => -(d[0].length * 4.8 + 4) / 2)
        .attr("y", -4.5)
        .attr("width", (d) => d[0].length * 4.8 + 4)
        .attr("height", 9)
        .attr("fill", "#000")
        .attr("transform", (d) => `translate(${x(d[1])},${y(d[2])}) rotate(${d[3]})`);

      // shaded cells
      const lonCell = d3.scaleLinear().domain([0, p.nx]).range(p.gridLon);
      const latCell = d3.scaleLinear().domain([0, p.bins.length]).range(p.gridLat);
      const cells = p.bins.flatMap((row, r) => expandRow(row, p.nx).map((b, c) => ({ b, c, r })));
      g.append("g").attr("clip-path", `url(#clip-${i})`).attr("shape-rendering", "crispEdges")
        .selectAll("rect").data(cells).join("rect")
        .attr("x", (d) => x(lonCell(d.c)))
        .attr("y", (d) => y(latCell(d.r)))
        .attr("width", (d) => x(lonCell(d.c + 1)) - x(lonCell(d.c)))
        .attr("height", (d) => y(latCell(d.r + 1)) - y(latCell(d.r)))
        .attr("fill", (d) => binColors[d.b]);

      // contours
      const line = d3.line<Pt>().x((d) => x(d[0])).y((d) => y(d[1]));
      const inner = g.append("g").attr("clip-path", `url(#clip-${i})`);
      inner.append("g").attr("mask", `url(#gaps-${i})`)
        .selectAll("path").data(p.contours).join("path")
        .attr("d", (d) => {
          const curve = p.poly
            ? (d[1] ? d3.curveLinearClosed : d3.curveLinear)
            : (d[1] ? d3.curveCatmullRomClosed.alpha(0.5) : d3.curveCatmullRom.alpha(0.5));
          return line.curve(curve)(d[2]);
        })
        .attr("fill", "none").attr("stroke", "#000").attr("stroke-width", 1.05);
      inner.selectAll("text").data(p.labels).join("text")
        .attr("transform", (d) => `translate(${x(d[1])},${y(d[2])}) rotate(${d[3]})`)
        .attr("text-anchor", "middle").attr("dy", "0.36em")
        .attr("font-family", FONT).attr("font-size", 7.5).attr("fill", "#111")
        .text((d) => d[0]);

      // frame and ticks
      g.append("rect").attr("x", left).attr("y", p.top).attr("width", axW).attr("height", axH)
        .attr("fill", "none").attr("stroke", "#000").attr("stroke-width", 1);
      const fmt = (d: d3.NumberValue) => String(d).replace("-", "\u2212");
      const styleAxis = (a: d3.Selection<SVGGElement, unknown, null, undefined>) => {
        a.select(".domain").remove();
        a.selectAll("text").attr("font-family", FONT).attr("font-size", 12).attr("fill", "#000");
        a.selectAll("line").attr("stroke", "#000");
      };
      g.append("g").attr("transform", `translate(0,${p.top + axH})`)
        .call(d3.axisBottom(x).tickValues(xTicks).tickSize(-4).tickPadding(5).tickFormat(fmt)).call(styleAxis);
      g.append("g").attr("transform", `translate(0,${p.top})`)
        .call(d3.axisTop(x).tickValues(xTicks).tickSize(-4).tickFormat(() => "")).call(styleAxis);
      g.append("g").attr("transform", `translate(${left},0)`)
        .call(d3.axisLeft(y).tickValues(yTicks).tickSize(-4).tickPadding(4).tickFormat(fmt)).call(styleAxis);
      g.append("g").attr("transform", `translate(${left + axW},0)`)
        .call(d3.axisRight(y).tickValues(yTicks).tickSize(-4).tickFormat(() => "")).call(styleAxis);

      g.append("text").attr("x", left + axW / 2).attr("y", p.top - 5.5)
        .attr("text-anchor", "middle").attr("font-family", FONT).attr("font-size", 18.5).text(p.title);
      g.append("text").attr("x", left).attr("y", p.top - 5)
        .attr("font-family", FONT).attr("font-size", 13.5).text(p.tag);
    });

    // colour bar
    const cb = svg.append("g");
    const cx = d3.scaleLinear().domain([0, 90]).range([462.3, 804.3]);
    const cbTop = 999.7;
    const cbH = 17.3;
    cb.append("g").attr("shape-rendering", "crispEdges")
      .selectAll("rect").data(binColors).join("rect")
      .attr("x", (_, i) => cx(binEdges[i])).attr("y", cbTop)
      .attr("width", (_, i) => cx(binEdges[i + 1]) - cx(binEdges[i])).attr("height", cbH)
      .attr("fill", (d) => d);
    const tip = `M${cx(90)},${cbTop}L${cx(90) + 17.5},${cbTop + cbH / 2}L${cx(90)},${cbTop + cbH}Z`;
    cb.append("path").attr("d", tip).attr("fill", binColors[8]).attr("stroke", "#000").attr("stroke-width", 0.8);
    cb.append("path")
      .attr("d", `M${cx(90)},${cbTop}L${cx(0)},${cbTop}L${cx(0)},${cbTop + cbH}L${cx(90)},${cbTop + cbH}`)
      .attr("fill", "none").attr("stroke", "#222").attr("stroke-width", 1);
    const cbAxis = cb.append("g").attr("transform", `translate(0,${cbTop + cbH})`)
      .call(d3.axisBottom(cx).tickValues(binEdges).tickSize(-4).tickPadding(6).tickFormat((d) => String(d)));
    cbAxis.select(".domain").remove();
    cbAxis.selectAll("text").attr("font-family", FONT).attr("font-size", 8.8).attr("fill", "#222");
    cbAxis.selectAll("line").attr("stroke", "#000");

    const unit = cb.append("text").attr("x", cx(47)).attr("y", 1047).attr("text-anchor", "middle")
      .attr("font-family", "'Liberation Serif', serif").attr("font-style", "italic").attr("font-size", 16).attr("fill", "#222")
      .attr("letter-spacing", 0.6);
    unit.append("tspan").text("g/m");
    unit.append("tspan").attr("dy", -6).attr("font-size", 10).text("2");
  }, []);

  return (
    <svg ref={svgRef} width={1266} height={1053} style={{ position: "absolute", left: 0, top: 0, background: "#fff" }} />
  );
}
